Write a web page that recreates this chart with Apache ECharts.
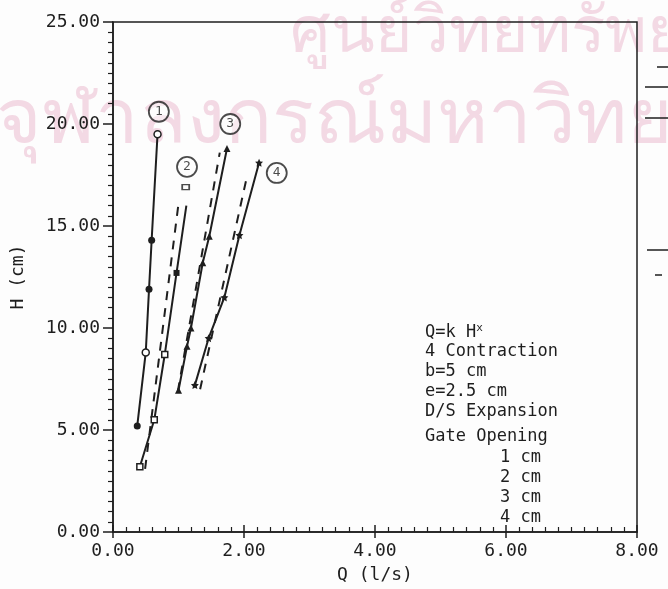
<!DOCTYPE html>
<html><head><meta charset="utf-8">
<script src="https://cdn.jsdelivr.net/npm/echarts@6/dist/echarts.min.js"></script>
<style>html,body{margin:0;padding:0;background:#fdfdfd}#c{width:668px;height:589px}</style>
</head><body><div id="c"></div>
<script>
// Q (l/s), H (cm)
const gate1 = [[0.37,5.2],[0.50,8.8],[0.55,11.9],[0.59,14.3],[0.68,19.5]];
const gate1Symbols = ['filled','open','filled','filled','open'];
const gate2 = [[0.41,3.2],[0.63,5.5],[0.79,8.7],[0.97,12.7],[1.12,16.0]];
const gate2Top = [[1.11,16.9]];
const gate3 = [[1.00,6.95],[1.13,9.1],[1.19,10.0],[1.37,13.2],[1.47,14.5],[1.74,18.8]];
const gate4 = [[1.25,7.2],[1.46,9.5],[1.70,11.5],[1.93,14.55],[2.23,18.1]];
const fit2 = [[0.49,3.1],[1.00,16.1]];
const fit3 = [[0.99,6.9],[1.63,18.6]];
const fit4 = [[1.33,7.0],[2.05,17.5]];
const circleLabels = ['1','2','3','4'];
const circlePos = [[0.70,20.6],[1.13,17.9],[1.79,20.0],[2.50,17.6]];
const noteLines = ['4 Contraction','b=5 cm','e=2.5 cm','D/S Expansion','Gate Opening'];
const gateLines = ['1 cm','2 cm','3 cm','4 cm'];

const INK = '#1e1e1e';
const FONT = 'DejaVu Sans Mono';
const chart = echarts.init(document.getElementById('c'));
const starPath = 'path://M0,-10 L2.9,-4 L9.5,-3.1 L4.7,1.5 L5.9,8.1 L0,5 L-5.9,8.1 L-4.7,1.5 L-9.5,-3.1 L-2.9,-4 Z';

const lineBase = {type:'line', lineStyle:{color:INK,width:2}, itemStyle:{color:INK}, z:5, silent:true};
const dashBase = {type:'line', symbol:'none', lineStyle:{color:INK,width:2,type:[9,8]}, z:4, silent:true};

const graphics = [
  {type:'text', left:290, top:2, z:-10, style:{text:'ศูนย์วิทยทรัพยากร', font:'64px "Noto Sans", "DejaVu Sans", sans-serif', fill:'#f3d9e4'}},
  {type:'text', left:-4, top:82, z:-10, style:{text:'จุฬาลงกรณ์มหาวิทยาลัย', font:'78px "Noto Sans", "DejaVu Sans", sans-serif', fill:'#f3d9e4'}},
  {type:'text', left:425, top:323, style:{text:'{a|Q=k H}{s|x}', rich:{a:{font:'17px "'+FONT+'"', fill:INK}, s:{font:'11px "'+FONT+'"', fill:INK, verticalAlign:'top', padding:[0,0,8,0]}}}}
];
noteLines.forEach((t,i)=>{
  graphics.push({type:'text', left:425, top:(i<4?343+i*20:428), style:{text:t, font:'17px "'+FONT+'"', fill:INK}});
});
gateLines.forEach((t,i)=>{
  graphics.push({type:'text', left:500, top:449+i*20, style:{text:t, font:'17px "'+FONT+'"', fill:INK}});
});
[[657,67,668],[645,87,668],[645,118,668],[647,250,668],[655,275,662]].forEach(l=>{
  graphics.push({type:'line', shape:{x1:l[0],y1:l[1],x2:l[2],y2:l[1]}, style:{stroke:INK,lineWidth:1.5}});
});

const option = {
  backgroundColor:'#fdfdfd',
  animation:false,
  grid:{left:113, right:31, top:22, bottom:55, show:true, borderColor:INK, borderWidth:1.5, backgroundColor:'transparent'},
  xAxis:[{
    type:'value', min:0, max:8, interval:2, position:'bottom',
    name:'Q (l/s)', nameLocation:'middle', nameGap:34,
    nameTextStyle:{fontFamily:FONT, fontSize:18, color:INK},
    axisLine:{show:true, lineStyle:{color:INK,width:1.5}},
    axisTick:{show:true, inside:true, length:7, lineStyle:{color:INK,width:1.5}},
    minorTick:{show:true, splitNumber:10, length:5, lineStyle:{color:INK,width:1.2}},
    splitLine:{show:false},
    axisLabel:{fontFamily:FONT, fontSize:18, color:INK, margin:10, formatter:v=>v.toFixed(2)}
  },{
    type:'value', min:0, max:8, interval:2, position:'bottom',
    axisLine:{show:false}, axisLabel:{show:false}, splitLine:{show:false},
    axisTick:{show:true, inside:false, length:6, lineStyle:{color:INK,width:1.5}}
  }],
  yAxis:{
    type:'value', min:0, max:25, interval:5,
    name:'H (cm)', nameLocation:'middle', nameGap:86, nameRotate:90,
    nameTextStyle:{fontFamily:FONT, fontSize:18, color:INK},
    axisLine:{show:true, lineStyle:{color:INK,width:1.5}},
    axisTick:{show:true, inside:false, length:10, lineStyle:{color:INK,width:1.5}},
    minorTick:{show:true, splitNumber:10, length:5, lineStyle:{color:INK,width:1.2}},
    splitLine:{show:false},
    axisLabel:{fontFamily:FONT, fontSize:18, color:INK, margin:13, formatter:v=>v.toFixed(2)}
  },
  graphic:graphics,
  series:[
    Object.assign({}, lineBase, {name:'1 cm', symbol:'circle', symbolSize:7,
      data:gate1.map((p,i)=>({value:p, itemStyle: gate1Symbols[i]==='open'?{color:'#fdfdfd',borderColor:INK,borderWidth:1.5}:{color:INK}}))}),
    Object.assign({}, lineBase, {name:'2 cm', symbol:'rect', symbolSize:6,
      data:gate2.map((p,i)=>({value:p, symbol: i===gate2.length-1?'none':'rect',
        itemStyle: i===3?{color:INK}:{color:'#fdfdfd',borderColor:INK,borderWidth:1.5}}))}),
    {type:'scatter', symbol:'rect', symbolSize:[7,5], data:gate2Top, itemStyle:{color:'#fdfdfd',borderColor:INK,borderWidth:1.5}, z:6, silent:true},
    Object.assign({}, lineBase, {name:'3 cm', symbol:'triangle', symbolSize:7, data:gate3}),
    Object.assign({}, lineBase, {name:'4 cm', symbol:starPath, symbolSize:8, data:gate4}),
    Object.assign({}, dashBase, {data:fit2}),
    Object.assign({}, dashBase, {data:fit3}),
    Object.assign({}, dashBase, {data:fit4}),
    {type:'scatter', symbol:'circle', symbolSize:20, z:6, silent:true,
      data:circlePos.map((p,i)=>({value:p, name:circleLabels[i]})),
      itemStyle:{color:'rgba(253,253,253,0.6)', borderColor:INK, borderWidth:1.8},
      label:{show:true, position:'inside', formatter:p=>p.name, fontFamily:FONT, fontSize:13, color:INK}}
  ]
};
chart.setOption(option);
</script></body></html>
